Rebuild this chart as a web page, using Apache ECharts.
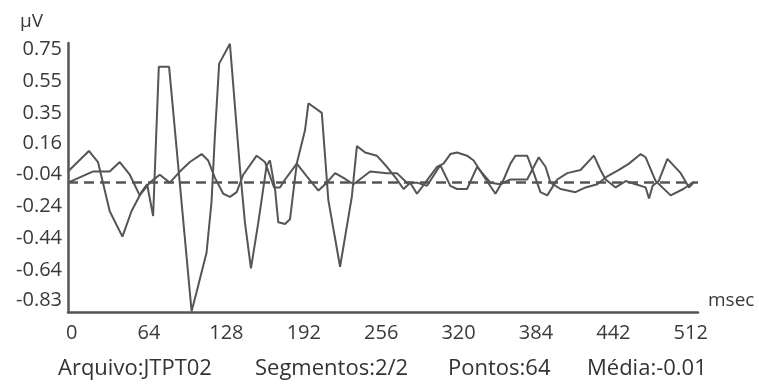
<!DOCTYPE html>
<html>
<head>
<meta charset="utf-8">
<script src="https://cdn.jsdelivr.net/npm/echarts@6/dist/echarts.min.js"></script>
<style>
  html, body { margin: 0; padding: 0; background: #fff; }
  #chart { width: 759px; height: 386px; }
</style>
</head>
<body>
<div id="chart"></div>
<script>
// segmento 1 (amplitude maior)
var seg1Msec = [-3, 14.3, 21.8, 25.9, 31.5, 42, 49.5, 57.7, 62.4, 67.4, 72.1, 80.6, 99.2, 103.3, 111.6,
  115.7, 118.5, 122, 130.9, 139.2, 143.3, 148.3, 154.4, 161.3, 164, 168.2, 170.9, 176.5, 180.6, 186.2,
  193, 195.8, 206.9, 212.3, 222, 231.7, 235.9, 242.8, 252.4, 260.7, 269, 274.5, 280, 285.6, 292.5,
  302.2, 307.6, 313.2, 318.7, 327, 332.5, 340.8, 350.5, 357.3, 362.9, 367, 376.7, 382.2, 387.7, 393.3,
  401.6, 409.9, 420.9, 431.9, 437.4, 441.6, 449.9, 458.2, 466.4, 474.7, 477.5, 480.5, 485.5, 492.7, 503.7,
  510.6, 514.5]
var seg1Uv = [-0.02, 0.11, 0.04, -0.09, -0.27, -0.43, -0.27, -0.15, -0.1, -0.3, 0.64, 0.64, -0.9, -0.78, -0.53,
  -0.21, 0.21, 0.66, 0.785, 0, -0.34, -0.63, -0.34, 0.02, 0.05, -0.13, -0.34, -0.35, -0.32, 0.03,
  0.24, 0.41, 0.35, -0.2, -0.62, -0.18, 0.14, 0.1, 0.08, 0.01, -0.07, -0.13, -0.09, -0.16, -0.09,
  0.01, 0.03, 0.09, 0.1, 0.08, 0.05, -0.05, -0.16, -0.07, 0.03, 0.08, 0.08, -0.03, -0.15, -0.17,
  -0.07, -0.03, -0.01, 0.08, -0.01, -0.07, -0.12, -0.08, -0.1, -0.12, -0.19, -0.11, -0.08, 0.06, -0.03,
  -0.12, -0.09]
// segmento 2
var seg2Msec = [-3, 17.4, 31.5, 39.8, 48.1, 56.3, 64.6, 72.9, 81.2, 89.5, 97.8, 107.5, 112.9, 118.5, 125.4,
  130.9, 136.5, 141.9, 153, 159.9, 167.4, 172.3, 176.5, 186.2, 194.5, 204.1, 211, 217.9, 224.8, 233.1,
  246.9, 260.7, 269, 277.3, 285.6, 293.9, 304.9, 313.2, 318.7, 327, 335.3, 346.3, 354.6, 362.9, 376.7,
  382.2, 386.3, 391.9, 396, 404.3, 416.7, 425, 434.7, 443, 452.6, 460.9, 470.6, 474.7, 483, 495.4,
  505.9, 513.4]
var seg2Uv = [-0.09, -0.02, -0.02, 0.04, -0.04, -0.17, -0.09, -0.04, -0.09, -0.02, 0.04, 0.09, 0.05, -0.06, -0.16,
  -0.18, -0.15, -0.04, 0.08, 0.04, -0.12, -0.12, -0.07, 0.03, -0.05, -0.14, -0.09, -0.03, -0.06, -0.1,
  -0.02, -0.03, -0.03, -0.09, -0.09, -0.11, 0.02, -0.11, -0.13, -0.13, 0.01, -0.09, -0.1, -0.07, -0.07,
  0.01, 0.07, 0.01, -0.09, -0.13, -0.15, -0.12, -0.1, -0.05, -0.01, 0.03, 0.09, 0.07, -0.08, -0.17,
  -0.13, -0.09]
var xTickValues = [0, 64, 128, 192, 256, 320, 384, 448, 512]
var xTickLabels = ['0', '64', '128', '192', '256', '320', '384', '442', '512']
var yTickValues = [0.75, 0.55, 0.35, 0.16, -0.04, -0.24, -0.44, -0.64, -0.83]
var yTickLabels = ['0.75', '0.55', '0.35', '0.16', '-0.04', '-0.24', '-0.44', '-0.64', '-0.83']
var baseLine = -0.09
var footer = ['Arquivo:JTPT02', 'Segmentos:2/2', 'Pontos:64', 'Média:-0.01']

function zip (xs, ys) {
  return xs.map(function (x, i) { return [x, ys[i]] })
}

var lineColor = '#555'
var textColor = '#3a3a3a'
var font = "'Open Sans', 'Noto Sans', sans-serif"
var footerFont = "22px 'Open Sans', sans-serif"

var myChart = echarts.init(document.getElementById('chart'))
myChart.setOption({
  animation: false,
  grid: { left: 68, right: 61, top: 43, bottom: 74 },
  xAxis: {
    type: 'value',
    min: -3,
    max: 518,
    name: 'msec',
    nameLocation: 'end',
    nameGap: 10,
    nameTextStyle: { color: textColor, fontSize: 19, fontFamily: font, verticalAlign: 'bottom', align: 'left', padding: [0, 0, 2, 0] },
    axisLine: { show: true, onZero: false, lineStyle: { color: lineColor, width: 2.5 } },
    axisTick: { show: false },
    splitLine: { show: false },
    axisLabel: {
      customValues: xTickValues,
      margin: 11,
      color: textColor,
      fontSize: 20,
      fontFamily: font,
      formatter: function (v) {
        var i = xTickValues.indexOf(v)
        return i >= 0 ? xTickLabels[i] : ''
      }
    }
  },
  yAxis: {
    type: 'value',
    min: -0.905,
    max: 0.79,
    name: 'μV',
    nameLocation: 'end',
    nameGap: 21,
    nameTextStyle: { color: textColor, fontSize: 19, fontFamily: font, align: 'right', verticalAlign: 'middle', padding: [0, 25, 0, 0] },
    axisLine: { show: true, onZero: false, lineStyle: { color: lineColor, width: 2.5 } },
    axisTick: { show: false },
    splitLine: { show: false },
    axisLabel: {
      customValues: yTickValues,
      margin: 6,
      color: textColor,
      fontSize: 20,
      fontFamily: font,
      formatter: function (v) {
        var i = yTickValues.indexOf(v)
        return i >= 0 ? yTickLabels[i] : ''
      }
    }
  },
  series: [
    {
      name: 'seg1',
      type: 'line',
      data: zip(seg1Msec, seg1Uv),
      symbol: 'none',
      lineStyle: { color: lineColor, width: 2 },
      markLine: {
        silent: true,
        symbol: ['none', 'none'],
        label: { show: false },
        lineStyle: { color: lineColor, width: 2.5, type: [10, 6] },
        data: [{ yAxis: baseLine }]
      }
    },
    {
      name: 'seg2',
      type: 'line',
      data: zip(seg2Msec, seg2Uv),
      symbol: 'none',
      lineStyle: { color: lineColor, width: 2 }
    }
  ],
  graphic: [
    { type: 'text', left: 58, top: 358, style: { text: footer[0], fill: '#333', font: footerFont } },
    { type: 'text', left: 255, top: 358, style: { text: footer[1], fill: '#333', font: footerFont } },
    { type: 'text', left: 448, top: 358, style: { text: footer[2], fill: '#333', font: footerFont } },
    { type: 'text', left: 587, top: 358, style: { text: footer[3], fill: '#333', font: footerFont } }
  ]
})
</script>
</body>
</html>
